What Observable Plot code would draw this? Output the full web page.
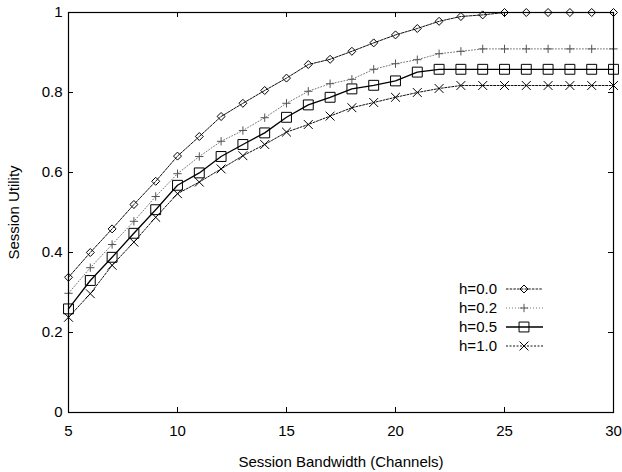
<!DOCTYPE html>
<html>
<head>
<meta charset="utf-8">
<script src="https://cdn.jsdelivr.net/npm/d3@7"></script>
<script src="https://cdn.jsdelivr.net/npm/@observablehq/plot@0.6"></script>
<style>
  html, body { margin: 0; padding: 0; background: white; }
  #chart { width: 622px; height: 472px; }
</style>
</head>
<body>
<div id="chart"></div>
<script>
// ---- data ----
const bandwidth = [5,6,7,8,9,10,11,12,13,14,15,16,17,18,19,20,21,22,23,24,25,26,27,28,29,30];
const h00 = [0.338,0.400,0.459,0.520,0.578,0.641,0.690,0.740,0.773,0.805,0.836,0.870,0.883,0.903,0.924,0.944,0.960,0.978,0.990,0.994,1.0,1.0,1.0,1.0,1.0,1.0];
const h02 = [0.298,0.362,0.420,0.478,0.540,0.597,0.640,0.678,0.705,0.737,0.773,0.803,0.822,0.833,0.858,0.872,0.882,0.897,0.903,0.909,0.909,0.909,0.909,0.909,0.909,0.909];
const h05 = [0.259,0.330,0.388,0.448,0.507,0.568,0.599,0.640,0.670,0.699,0.738,0.769,0.788,0.809,0.818,0.829,0.851,0.858,0.858,0.858,0.858,0.858,0.858,0.858,0.858,0.858];
const h10 = [0.238,0.297,0.368,0.426,0.488,0.547,0.576,0.609,0.642,0.670,0.701,0.720,0.741,0.762,0.775,0.788,0.800,0.810,0.8175,0.8175,0.8175,0.8175,0.8175,0.8175,0.8175,0.8175];
const seriesNames = ["h=0.0","h=0.2","h=0.5","h=1.0"];
const xTicks = [5,10,15,20,25,30];
const yTicks = [0,0.2,0.4,0.6,0.8,1];

// ---- styles ----
const styles = [
  {values: h00, symbol: "diamond2", r: 3.6, stroke: "#111", dash: "2.5,1.2", width: 1},
  {values: h02, symbol: "plus", r: 2.8, stroke: "#777", dash: "1,2", width: 1},
  {values: h05, symbol: "square2", r: 6.3, stroke: "#000", dash: null, width: 1.3},
  {values: h10, symbol: "times", r: 4.1, stroke: "#111", dash: "2,1.5", width: 1}
];

const W = 622, H = 472;
const mL = 68, mR = 9, mT = 12, mB = 60;
const innerW = W - mL - mR, innerH = H - mT - mB;

const marks = [];
styles.forEach((s, i) => {
  const rows = bandwidth.map((b, j) => ({x: b, y: s.values[j]}));
  marks.push(Plot.line(rows, {x: "x", y: "y", stroke: s.stroke, strokeWidth: s.width, strokeDasharray: s.dash}));
  marks.push(Plot.dot(rows, {x: "x", y: "y", symbol: () => s.symbol, r: s.r, stroke: i === 1 ? "#555" : "#000", fill: "none", strokeWidth: 1}));
});

const tickLen = 5;
marks.push(
  Plot.frame({stroke: "#000", strokeWidth: 1.2}),
  Plot.tickX(xTicks, {x: d => d, insetTop: innerH - tickLen, stroke: "#000"}),
  Plot.tickX(xTicks, {x: d => d, insetBottom: innerH - tickLen, stroke: "#000"}),
  Plot.tickY(yTicks, {y: d => d, insetRight: innerW - tickLen, stroke: "#000"}),
  Plot.tickY(yTicks, {y: d => d, insetLeft: innerW - tickLen, stroke: "#000"}),
  Plot.axisX(xTicks, {tickSize: 0, tickPadding: 13, tickFormat: d => String(d), label: "Session Bandwidth (Channels)", labelAnchor: "center", labelArrow: "none", labelOffset: 54}),
  Plot.axisY(yTicks, {tickSize: 0, tickPadding: 6, tickFormat: d => String(d), label: "Session Utility", labelAnchor: "center", labelArrow: "none", labelOffset: 60})
);

const plot = Plot.plot({
  width: W, height: H,
  marginLeft: mL, marginRight: mR, marginTop: mT, marginBottom: mB,
  x: {domain: [5, 30]},
  y: {domain: [0, 1]},
  style: {fontFamily: "'Liberation Sans', Arial, sans-serif", fontSize: "15px", background: "white", color: "#000", overflow: "visible"},
  marks
});
document.getElementById("chart").appendChild(plot);

// ---- legend (inside plot, lower right) ----
const svg = d3.select(plot);
const lg = svg.append("g").attr("font-family", "'Liberation Sans', Arial, sans-serif").attr("font-size", "15px");
seriesNames.forEach((name, i) => {
  const s = styles[i];
  const y = 289 + i * 19;
  lg.append("text").attr("x", 497).attr("y", y).attr("dy", "0.35em").attr("text-anchor", "end").attr("fill", "#000").text(name);
  lg.append("line").attr("x1", 506).attr("x2", 543).attr("y1", y).attr("y2", y)
    .attr("stroke", s.stroke).attr("stroke-width", s.width).attr("stroke-dasharray", s.dash);
  const size = Math.PI * s.r * s.r;
  const symMap = {diamond2: d3.symbolDiamond2, plus: d3.symbolPlus, square2: d3.symbolSquare2, times: d3.symbolTimes};
  lg.append("path").attr("d", d3.symbol(symMap[s.symbol], size)())
    .attr("transform", `translate(524,${y})`).attr("fill", "none")
    .attr("stroke", i === 1 ? "#555" : "#000").attr("stroke-width", 1);
});
</script>
</body>
</html>
